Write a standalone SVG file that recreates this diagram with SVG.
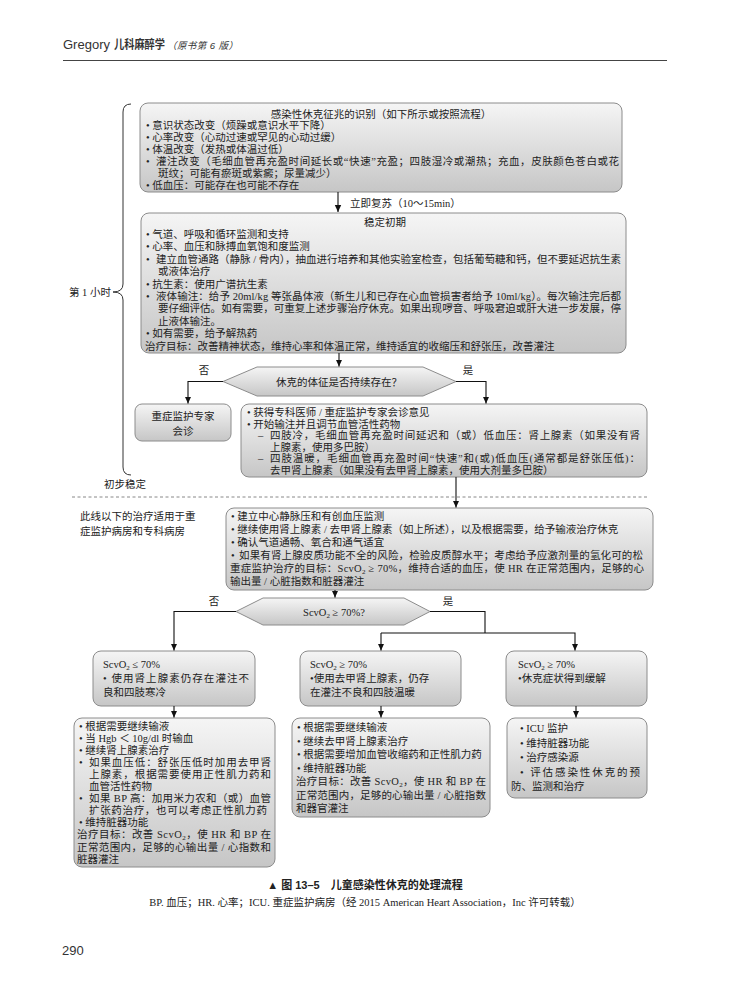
<svg xmlns="http://www.w3.org/2000/svg" width="730" height="990" viewBox="0 0 730 990">
<defs>
<linearGradient id="g" x1="0" y1="0" x2="0" y2="1">
<stop offset="0" stop-color="#f5f5f5"/>
<stop offset="1" stop-color="#c6c6c6"/>
</linearGradient>
<marker id="ah" markerWidth="8" markerHeight="8" refX="7" refY="4" orient="auto" markerUnits="userSpaceOnUse">
<path d="M0,0.8 L7,4 L0,7.2 Z" fill="#111"/>
</marker>
<style>
.t{font-family:"Liberation Serif","Noto Sans CJK SC",serif;font-size:10.5px;fill:#222}
.c{text-anchor:middle}
.box{fill:url(#g);stroke:#8c8c8c;stroke-width:1}
.ln{fill:none;stroke:#111;stroke-width:1.1}
.a{marker-end:url(#ah)}
.hd{font-family:"Liberation Sans","Noto Sans CJK SC",sans-serif;fill:#333}
.sub{font-size:7px}
</style>
</defs>
<rect width="730" height="990" fill="#fff"/>

<g id="header">
<text x="63" y="49" class="hd" font-size="13">Gregory</text>
<text x="114" y="49" class="hd" font-size="12" font-weight="bold" textLength="51" lengthAdjust="spacingAndGlyphs">儿科麻醉学</text>
<text x="167" y="48.5" class="hd" font-size="9.5" font-style="italic" textLength="71" lengthAdjust="spacing">（原书第 6 版）</text>
<line x1="63" y1="60.5" x2="667" y2="60.5" stroke="#444" stroke-width="1"/>
</g>

<g id="brace">
<path d="M131,104 Q123,104 123,112 L123,284 Q123,292 113,292 Q123,292 123,300 L123,467 Q123,475 131,475" fill="none" stroke="#333" stroke-width="1"/>
<text x="111" y="296" class="t" text-anchor="end">第 1 小时</text>
<text x="125" y="488" class="t c">初步稳定</text>
</g>

<g id="n1">
<rect x="140" y="103" width="482" height="89" rx="8" class="box"/>
<text x="381" y="118" class="t c">感染性休克征兆的识别（如下所示或按照流程）</text>
<text x="146" y="129" class="t">•  意识状态改变（烦躁或意识水平下降）</text>
<text x="146" y="141" class="t">•  心率改变（心动过速或罕见的心动过缓）</text>
<text x="146" y="153" class="t">•  体温改变（发热或体温过低）</text>
<text x="146" y="165" class="t">•</text>
<text x="156" y="165" class="t" textLength="463" lengthAdjust="spacing">灌注改变（毛细血管再充盈时间延长或“快速”充盈；四肢湿冷或潮热；充血，皮肤颜色苍白或花</text>
<text x="158" y="177" class="t">斑纹；可能有瘀斑或紫癜；尿量减少）</text>
<text x="146" y="188.5" class="t">•  低血压：可能存在也可能不存在</text>
</g>

<g id="n2">
<rect x="141" y="213" width="485" height="140" rx="8" class="box"/>
<text x="385" y="226" class="t c">稳定初期</text>
<text x="146" y="238" class="t">•  气道、呼吸和循环监测和支持</text>
<text x="146" y="250.4" class="t">•  心率、血压和脉搏血氧饱和度监测</text>
<text x="146" y="262.8" class="t">•</text>
<text x="156" y="262.8" class="t" textLength="465" lengthAdjust="spacing">建立血管通路（静脉 / 骨内），抽血进行培养和其他实验室检查，包括葡萄糖和钙，但不要延迟抗生素</text>
<text x="158" y="275.2" class="t">或液体治疗</text>
<text x="146" y="287.6" class="t">•  抗生素：使用广谱抗生素</text>
<text x="146" y="300" class="t">•</text>
<text x="156" y="300" class="t" textLength="465" lengthAdjust="spacing">液体输注：给予 20ml/kg 等张晶体液（新生儿和已存在心血管损害者给予 10ml/kg）。每次输注完后都</text>
<text x="158" y="312.4" class="t" textLength="463" lengthAdjust="spacing">要仔细评估。如有需要，可重复上述步骤治疗休克。如果出现啰音、呼吸窘迫或肝大进一步发展，停</text>
<text x="158" y="324.8" class="t">止液体输注。</text>
<text x="146" y="337.2" class="t">•  如有需要，给予解热药</text>
<text x="145" y="349.6" class="t">治疗目标：改善精神状态，维持心率和体温正常，维持适宜的收缩压和舒张压，改善灌注</text>
</g>

<g id="d1">
<polygon points="223,381.5 257,367 423,367 456,381.5 423,396 257,396" class="box"/>
<text x="339" y="385.5" class="t c">休克的体征是否持续存在？</text>
</g>

<g id="n3">
<rect x="135" y="404" width="96" height="37" rx="7" class="box"/>
<text x="183" y="420" class="t c">重症监护专家</text>
<text x="183" y="435" class="t c">会诊</text>
</g>

<g id="n4">
<rect x="241" y="404" width="406" height="73" rx="8" class="box"/>
<text x="247" y="416" class="t">•  获得专科医师 / 重症监护专家会诊意见</text>
<text x="247" y="427.5" class="t">•  开始输注并且调节血管活性药物</text>
<text x="258" y="439" class="t">–</text>
<text x="270" y="439" class="t" textLength="370" lengthAdjust="spacing">四肢冷，毛细血管再充盈时间延迟和（或）低血压：肾上腺素（如果没有肾</text>
<text x="270" y="450.5" class="t">上腺素，使用多巴胺）</text>
<text x="258" y="462" class="t">–</text>
<text x="270" y="462" class="t" textLength="370" lengthAdjust="spacing">四肢温暖，毛细血管再充盈时间“快速”和(或)低血压(通常都是舒张压低)：</text>
<text x="270" y="473.5" class="t">去甲肾上腺素（如果没有去甲肾上腺素，使用大剂量多巴胺）</text>
</g>

<g id="divider">
<line x1="72" y1="497" x2="647" y2="497" stroke="#888" stroke-width="1" stroke-dasharray="3,2.5"/>
<text x="80" y="520" class="t">此线以下的治疗适用于重</text>
<text x="80" y="535" class="t">症监护病房和专科病房</text>
</g>

<g id="n5">
<rect x="226" y="508" width="427" height="82" rx="8" class="box"/>
<text x="231" y="520" class="t">•  建立中心静脉压和有创血压监测</text>
<text x="231" y="533" class="t">•  继续使用肾上腺素 / 去甲肾上腺素（如上所述），以及根据需要，给予输液治疗休克</text>
<text x="231" y="546" class="t">•  确认气道通畅、氧合和通气适宜</text>
<text x="231" y="559" class="t">•</text>
<text x="239" y="559" class="t" textLength="404" lengthAdjust="spacing">如果有肾上腺皮质功能不全的风险，检验皮质醇水平；考虑给予应激剂量的氢化可的松</text>
<text x="230" y="572" class="t" textLength="414" lengthAdjust="spacing">重症监护治疗的目标：ScvO<tspan class="sub" dy="2">2</tspan><tspan dy="-2"> ≥ 70%，维持合适的血压，使 HR 在正常范围内，足够的心</tspan></text>
<text x="230" y="585" class="t">输出量 / 心脏指数和脏器灌注</text>
</g>

<g id="d2">
<polygon points="236,611.5 263,598 404,598 430,611.5 404,625 263,625" class="box"/>
<text x="334" y="615.5" class="t c">ScvO<tspan class="sub" dy="2">2</tspan><tspan dy="-2"> ≥ 70%?</tspan></text>
</g>

<g id="n6">
<rect x="93" y="651" width="162" height="55" rx="8" class="box"/>
<text x="103" y="668" class="t">ScvO<tspan class="sub" dy="2">2</tspan><tspan dy="-2"> ≤ 70%</tspan></text>
<text x="103" y="682" class="t" textLength="146" lengthAdjust="spacing">•  使用肾上腺素仍存在灌注不</text>
<text x="103" y="696" class="t">良和四肢寒冷</text>
</g>

<g id="n7">
<rect x="300" y="651" width="161" height="55" rx="8" class="box"/>
<text x="310" y="668" class="t">ScvO<tspan class="sub" dy="2">2</tspan><tspan dy="-2"> ≥ 70%</tspan></text>
<text x="310" y="682" class="t">•使用去甲肾上腺素，仍存</text>
<text x="310" y="696" class="t">在灌注不良和四肢温暖</text>
</g>

<g id="n8">
<rect x="506" y="651" width="141" height="55" rx="8" class="box"/>
<text x="518" y="668" class="t">ScvO<tspan class="sub" dy="2">2</tspan><tspan dy="-2"> ≥ 70%</tspan></text>
<text x="518" y="682" class="t">•休克症状得到缓解</text>
</g>

<g id="n9">
<rect x="74" y="718" width="201" height="149" rx="8" class="box"/>
<text x="79" y="729.5" class="t">•  根据需要继续输液</text>
<text x="79" y="741.6" class="t">•  当 Hgb ＜ 10g/dl 时输血</text>
<text x="79" y="753.7" class="t">•  继续肾上腺素治疗</text>
<text x="79" y="765.8" class="t">•</text>
<text x="89" y="765.8" class="t" textLength="182" lengthAdjust="spacing">如果血压低：舒张压低时加用去甲肾</text>
<text x="89" y="777.9" class="t" textLength="182" lengthAdjust="spacing">上腺素，根据需要使用正性肌力药和</text>
<text x="89" y="790" class="t">血管活性药物</text>
<text x="79" y="802.1" class="t">•</text>
<text x="89" y="802.1" class="t" textLength="182" lengthAdjust="spacing">如果 BP 高：加用米力农和（或）血管</text>
<text x="89" y="814.2" class="t" textLength="178" lengthAdjust="spacing">扩张药治疗，也可以考虑正性肌力药</text>
<text x="79" y="826.3" class="t">• 维持脏器功能</text>
<text x="77" y="838.4" class="t" textLength="194" lengthAdjust="spacing">治疗目标：改善 ScvO<tspan class="sub" dy="2">2</tspan><tspan dy="-2">，使 HR 和 BP 在</tspan></text>
<text x="77" y="850.5" class="t" textLength="194" lengthAdjust="spacing">正常范围内，足够的心输出量 / 心指数和</text>
<text x="77" y="862.6" class="t">脏器灌注</text>
</g>

<g id="n10">
<rect x="292" y="718" width="198" height="99" rx="8" class="box"/>
<text x="297" y="731" class="t">•  根据需要继续输液</text>
<text x="297" y="744.5" class="t">•  继续去甲肾上腺素治疗</text>
<text x="297" y="758" class="t">•  根据需要增加血管收缩药和正性肌力药</text>
<text x="297" y="771.5" class="t">•  维持脏器功能</text>
<text x="296" y="785" class="t" textLength="190" lengthAdjust="spacing">治疗目标：改善 ScvO<tspan class="sub" dy="2">2</tspan><tspan dy="-2">，使 HR 和 BP 在</tspan></text>
<text x="296" y="798.5" class="t" textLength="190" lengthAdjust="spacing">正常范围内，足够的心输出量 / 心脏指数</text>
<text x="296" y="812" class="t">和器官灌注</text>
</g>

<g id="n11">
<rect x="507" y="718" width="140" height="80" rx="8" class="box"/>
<text x="520" y="732" class="t">•  ICU 监护</text>
<text x="520" y="746.5" class="t">•  维持脏器功能</text>
<text x="520" y="761" class="t">•  治疗感染源</text>
<text x="520" y="775.5" class="t" textLength="120" lengthAdjust="spacing">•  评估感染性休克的预</text>
<text x="511" y="790" class="t">防、监测和治疗</text>
</g>

<g id="connectors">
<line x1="338" y1="192" x2="338" y2="212" class="ln a"/>
<text x="350" y="207" class="t">立即复苏（10～15min）</text>
<line x1="339" y1="353" x2="339" y2="366.5" class="ln a"/>
<polyline points="223,381.5 188,381.5 188,403.5" class="ln a"/>
<polyline points="456,381.5 486,381.5 486,403.5" class="ln a"/>
<text x="204" y="374" class="t c">否</text>
<text x="468" y="374" class="t c">是</text>
<line x1="456" y1="477" x2="456" y2="507.5" class="ln a"/>
<line x1="335" y1="590" x2="335" y2="597.5" class="ln a"/>
<polyline points="236,611.5 174,611.5 174,650.5" class="ln a"/>
<polyline points="430,611.5 485,611.5 485,633" class="ln"/>
<polyline points="381,633 575,633 575,650.5" class="ln a"/>
<line x1="381" y1="633" x2="381" y2="650.5" class="ln a"/>
<text x="214" y="605" class="t c">否</text>
<text x="448" y="605" class="t c">是</text>
<line x1="174" y1="706" x2="174" y2="717.5" class="ln a"/>
<line x1="381" y1="706" x2="381" y2="717.5" class="ln a"/>
<line x1="576" y1="706" x2="576" y2="717.5" class="ln a"/>
</g>

<g id="caption">
<text x="365" y="889" text-anchor="middle" font-family="Liberation Sans,Noto Sans CJK SC,sans-serif" font-weight="bold" font-size="11" fill="#222">▲ 图 13–5　儿童感染性休克的处理流程</text>
<text x="365" y="906" class="t c" font-size="10">BP. 血压；HR. 心率；ICU. 重症监护病房（经 2015 American Heart Association，Inc 许可转载）</text>
<text x="62" y="955" class="hd" font-size="13">290</text>
</g>
</svg>
